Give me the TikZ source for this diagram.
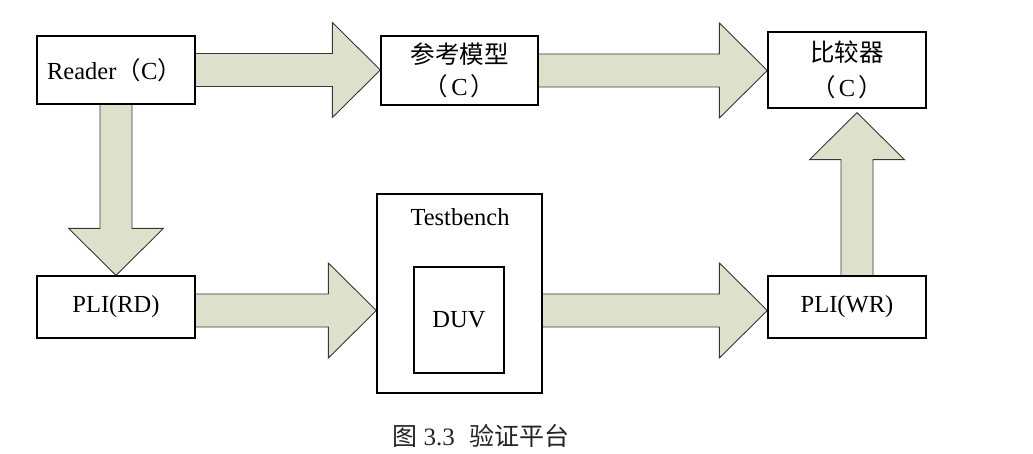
\documentclass[tikz,border=0pt]{standalone}
\usepackage{fontspec}
\setmainfont{Liberation Serif}
\newfontfamily\cjk{Noto Sans CJK SC}
\usetikzlibrary{calc,backgrounds}
\definecolor{arrfill}{RGB}{221,225,204}
\definecolor{arrline}{RGB}{55,55,55}
\definecolor{capcol}{RGB}{35,35,35}
\tikzset{
  box/.style={draw=black, line width=1.3pt, fill=white, inner sep=0pt, align=center,
    font=\fontsize{24.5}{32}\selectfont},
  blockarr/.style={draw=arrline, fill=arrfill, line width=0.9pt, line join=miter},
  lbl/.style={inner sep=0pt, font=\fontsize{24.5}{28}\selectfont}
}
% horizontal block arrow: #1 start (on centre line), #2 tip (its x is used)
\newcommand\harrow[2]{%
  \filldraw[blockarr] let \p1=(#1), \p2=(#2) in
    (\x1,{\y1-16.5pt}) -- ({\x2-48pt},{\y1-16.5pt}) -- ({\x2-48pt},{\y1-47.5pt}) --
    (\x2,\y1) -- ({\x2-48pt},{\y1+47.5pt}) -- ({\x2-48pt},{\y1+16.5pt}) -- (\x1,{\y1+16.5pt});}
% vertical block arrow: #1 start, #2 tip (its y is used), #3 = 1 down, -1 up
\newcommand\varrow[3]{%
  \filldraw[blockarr] let \p1=(#1), \p2=(#2) in
    ({\x1-16pt},\y1) -- ({\x1-16pt},{\y2+#3*47pt}) -- ({\x1-47.5pt},{\y2+#3*47pt}) --
    (\x1,\y2) -- ({\x1+47.5pt},{\y2+#3*47pt}) -- ({\x1+16pt},{\y2+#3*47pt}) -- ({\x1+16pt},\y1);}
\newcommand\pc{{\cjk（}\kern3pt C\kern3pt{\cjk）}}
\begin{document}
\begin{tikzpicture}[x=1pt,y=-1pt]
\useasboundingbox (0,0) rectangle (1033,454);
\node[box, minimum width=158pt, minimum height=68pt] (reader) at (116,70) {Reader{\cjk（}C{\cjk）}\hspace{3pt}};
\node[box, minimum width=157pt, minimum height=69pt] (ref) at (459.5,70.5) {{\cjk 参考模型}\\\pc};
\node[box, minimum width=158pt, minimum height=76pt, font=\fontsize{24.5}{35}\selectfont] (cmp) at (847,70) {{\cjk 比较器}\\\pc};
\node[box, minimum width=158pt, minimum height=62pt] (rd) at (116,307) {PLI(RD)};
\node[box, minimum width=165pt, minimum height=199pt] (tb) at (459.5,293.5) {};
\node[lbl] (tblabel) at (460,217) {Testbench};
\node[box, minimum width=90pt, minimum height=106pt] (duv) at (459,320) {DUV};
\node[box, minimum width=158pt, minimum height=62pt] (wr) at (847,307) {PLI(WR)};
\node[lbl, text=capcol, font=\fontsize{25}{28}\selectfont] (cap) at (481,436) {{\cjk 图} 3.3\hspace{0.6em}{\cjk 验证平台}};
\begin{pgfonlayer}{background}
\harrow{reader.east}{ref.west}
\harrow{ref.east}{cmp.west}
\harrow{$(rd.east)+(0,3.5)$}{tb.west}
\harrow{$(tb.east)+(0,17)$}{wr.west}
\varrow{reader.south}{rd.north}{1}
\varrow{$(wr.north)+(10,0)$}{$(cmp.south)+(10,4)$}{-1}
\end{pgfonlayer}
\end{tikzpicture}
\end{document}
